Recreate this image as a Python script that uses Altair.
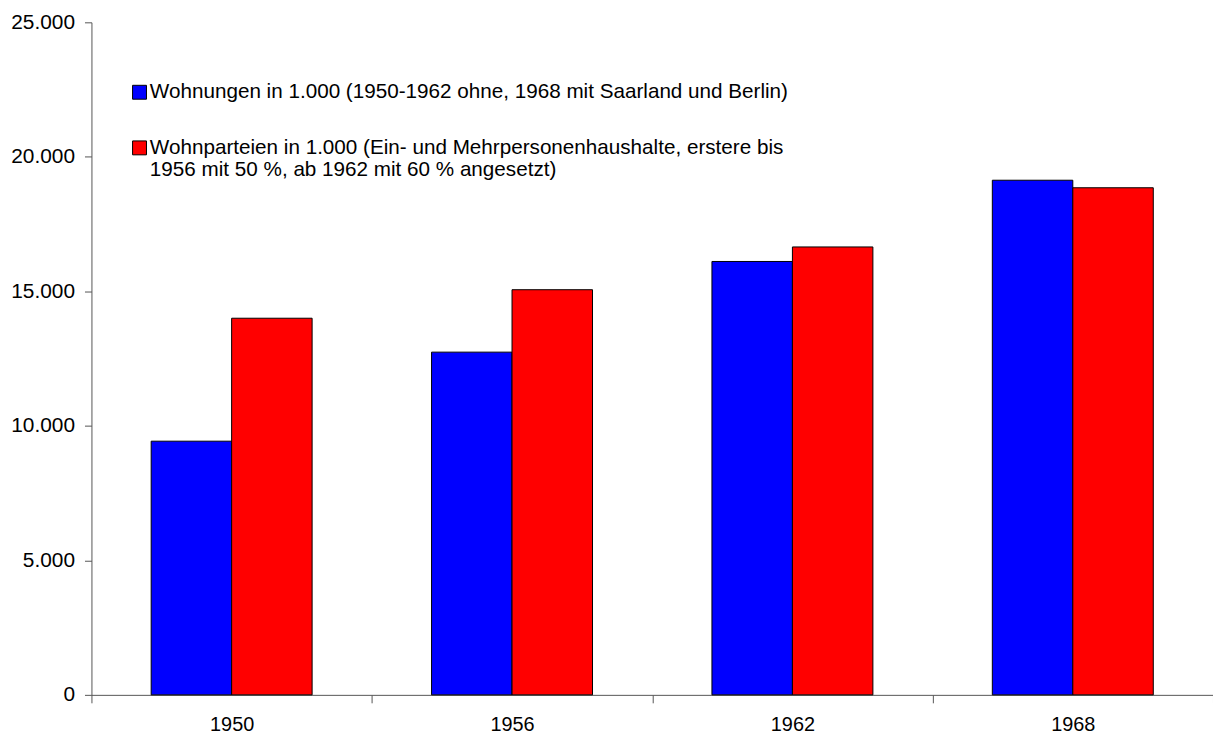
import altair as alt
import pandas as pd

years = ["1950", "1956", "1962", "1968"]
wohnungen = [9430, 12740, 16110, 19130]
wohnparteien = [14000, 15060, 16650, 18850]
series = [
    "Wohnungen in 1.000 (1950-1962 ohne, 1968 mit Saarland und Berlin)",
    "Wohnparteien in 1.000 (Ein- und Mehrpersonenhaushalte, erstere bis|1956 mit 50 %, ab 1962 mit 60 % angesetzt)",
]
colors = ["#0000FF", "#FF0000"]

rows = []
for i, y in enumerate(years):
    rows.append({"year": y, "series": series[0], "value": wohnungen[i]})
    rows.append({"year": y, "series": series[1], "value": wohnparteien[i]})
df = pd.DataFrame(rows)

FONT = "Liberation Sans"

chart = alt.Chart(df).mark_bar(stroke="black", strokeWidth=1).encode(
    x=alt.X("year:N", title=None, sort=years,
            scale=alt.Scale(paddingInner=0, paddingOuter=0),
            axis=alt.Axis(labelAngle=0, tickBand="extent", tickSize=8,
                          labelPadding=12, domainColor="#555", tickColor="#555",
                          labelFontSize=20, labelColor="black", labelFont=FONT)),
    xOffset=alt.XOffset("series:N", sort=series,
                        scale=alt.Scale(paddingInner=0, paddingOuter=0.742)),
    y=alt.Y("value:Q", title=None,
            scale=alt.Scale(domain=[0, 25000], nice=False),
            axis=alt.Axis(values=[0, 5000, 10000, 15000, 20000, 25000],
                          labelExpr="replace(format(datum.value, ','), ',', '.')",
                          grid=False, tickSize=7, labelPadding=10,
                          domainColor="#555", tickColor="#555",
                          labelFontSize=21, labelColor="black", labelFont=FONT)),
    color=alt.Color("series:N", sort=series,
                    scale=alt.Scale(domain=series, range=colors),
                    legend=alt.Legend(title=None, orient="none", legendX=38, legendY=60,
                                      symbolType="square", symbolSize=196,
                                      symbolStrokeColor="black", symbolStrokeWidth=1,
                                      labelFontSize=20.8, labelFont=FONT, labelColor="black",
                                      labelLimit=1000, labelOffset=0, rowPadding=34,
                                      labelExpr="split(datum.label, '|')")),
).properties(
    width=1129, height=677,
    autosize=alt.AutoSizeParams(type="none"),
    padding={"left": 84, "top": 12, "right": 0, "bottom": 38},
).configure_view(stroke=None)

chart.save("out.html", embed_options={"renderer": "svg", "actions": False})
